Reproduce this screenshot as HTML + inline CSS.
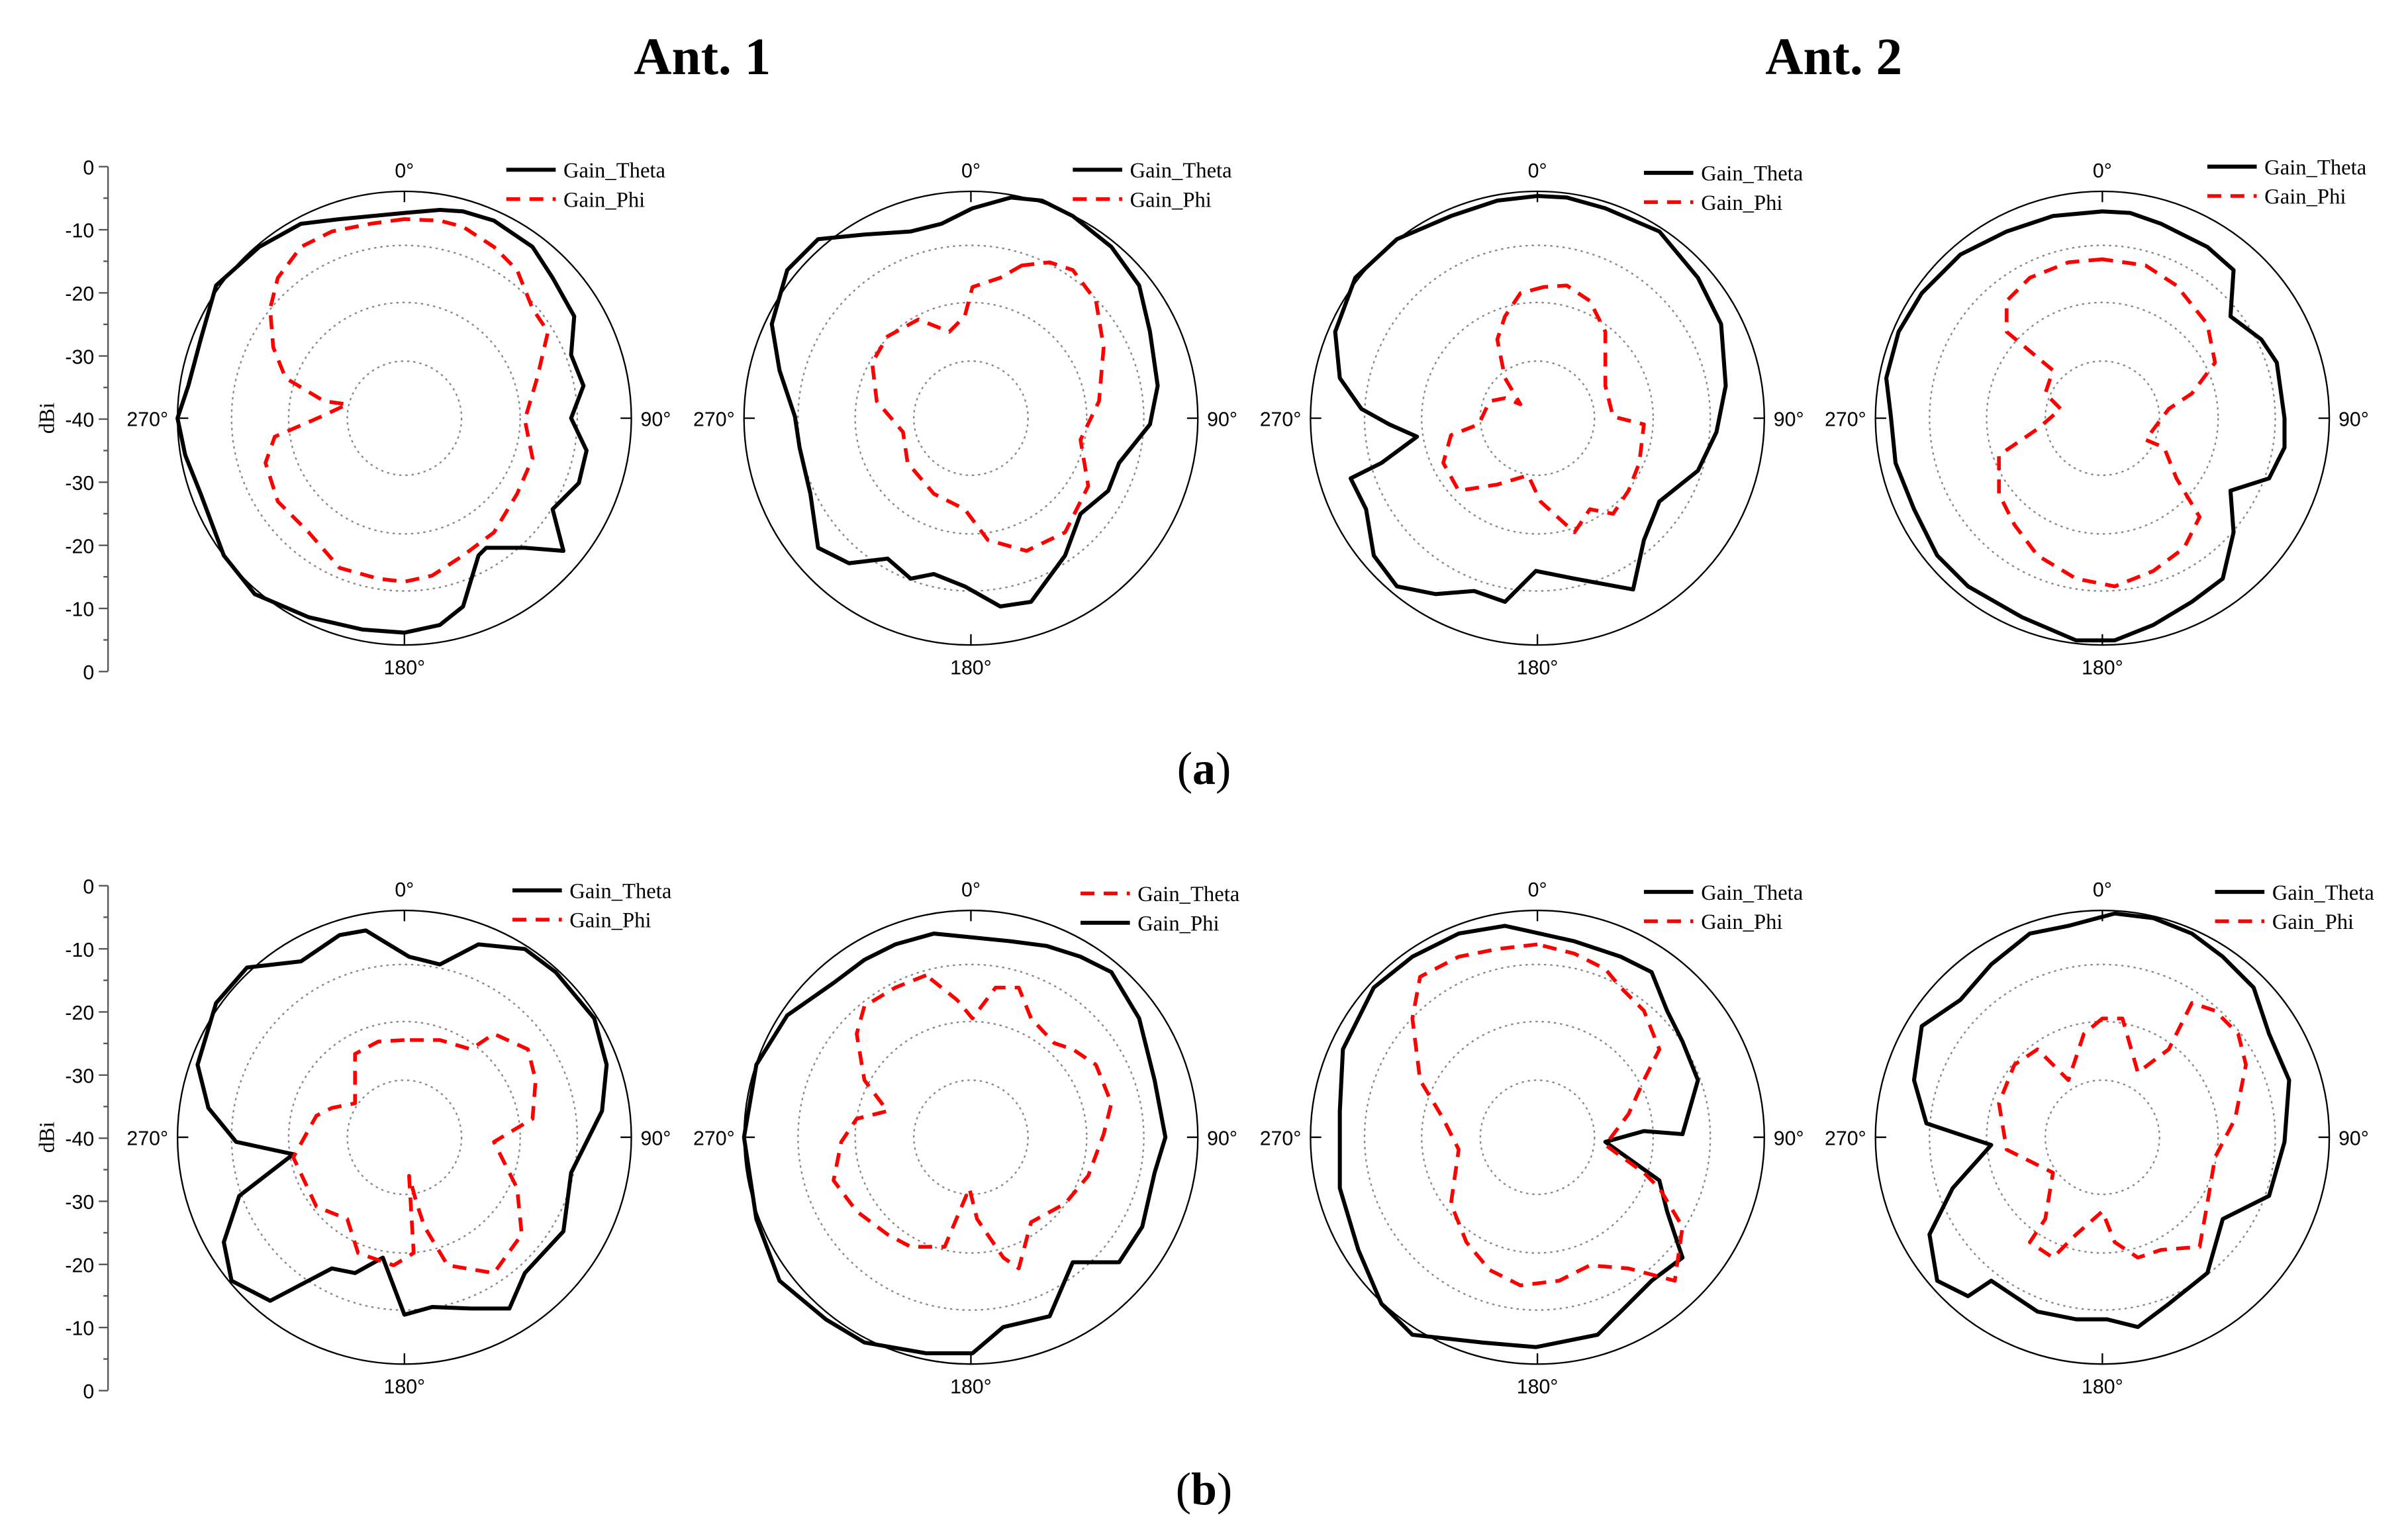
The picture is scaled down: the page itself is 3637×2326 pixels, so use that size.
<!DOCTYPE html>
<html><head><meta charset="utf-8"><style>
html,body{margin:0;padding:0;background:#fff;}
svg{display:block;}
text{font-family:"Liberation Sans",sans-serif;}
.t{font-family:"Liberation Serif",serif;}
</style></head><body>
<svg id="s" width="3637" height="2326" viewBox="0 0 1560 998" preserveAspectRatio="none" xmlns="http://www.w3.org/2000/svg">
<text class="t" x="455" y="48" font-size="34" font-weight="bold" text-anchor="middle">Ant. 1</text>
<text class="t" x="1188" y="48" font-size="34" font-weight="bold" text-anchor="middle">Ant. 2</text>
<text class="t" x="780" y="508" font-size="30" text-anchor="middle">(<tspan font-weight="bold">a</tspan>)</text>
<text class="t" x="780" y="975" font-size="30" text-anchor="middle">(<tspan font-weight="bold">b</tspan>)</text>
</svg>
<script>
var s=document.getElementById('s'),NS='http://www.w3.org/2000/svg';
function el(t,a,txt){var e=document.createElementNS(NS,t);for(var k in a)e.setAttribute(k,a[k]);if(txt!=null)e.textContent=txt;s.appendChild(e);return e;}
function pl(p,st){el('polygon',Object.assign({points:p.map(function(q){return q.join(',')}).join(' '),fill:'none','stroke-linejoin':'round'},st));}
var B={stroke:'#000','stroke-width':2.6},R={stroke:'#f00','stroke-width':2.4,'stroke-dasharray':'9,6'};
function axis(y0){el('line',{x1:70,y1:y0,x2:70,y2:y0+327,stroke:'#555','stroke-width':1});
var lab=['0','-10','-20','-30','-40','-30','-20','-10','0'];
for(var i=0;i<9;i++){var y=y0+i*40.9;el('line',{x1:64,y1:y,x2:70,y2:y,stroke:'#555','stroke-width':1});el('text',{x:61,y:y+5,'font-size':13,'text-anchor':'end'},lab[i]);
if(i<8)el('line',{x1:67,y1:y+20.4,x2:70,y2:y+20.4,stroke:'#555','stroke-width':1});}
var t=el('text',{class:'t',x:0,y:0,'font-size':14,'text-anchor':'middle',transform:'translate(35,'+(y0+163)+') rotate(-90)'},'dBi');}
axis(108);axis(574);
function plot(cx,cy,lx,ly,swap){
el('circle',{cx:cx,cy:cy,r:147,fill:'none',stroke:'#000','stroke-width':1});
[37,75,112].forEach(function(r){el('circle',{cx:cx,cy:cy,r:r,fill:'none',stroke:'#888','stroke-width':1,'stroke-dasharray':'1.5,2.5'});});
el('line',{x1:cx,y1:cy-147,x2:cx,y2:cy-140,stroke:'#000'});el('line',{x1:cx,y1:cy+147,x2:cx,y2:cy+140,stroke:'#000'});
el('line',{x1:cx-147,y1:cy,x2:cx-140,y2:cy,stroke:'#000'});el('line',{x1:cx+147,y1:cy,x2:cx+140,y2:cy,stroke:'#000'});
el('text',{x:cx,y:cy-156,'font-size':13,'text-anchor':'middle'},'0°');
el('text',{x:cx,y:cy+166,'font-size':13,'text-anchor':'middle'},'180°');
el('text',{x:cx-153,y:cy+5,'font-size':13,'text-anchor':'end'},'270°');
el('text',{x:cx+153,y:cy+5,'font-size':13,'text-anchor':'start'},'90°');
var a=swap?R:B,b=swap?B:R;
el('line',Object.assign({x1:lx,y1:ly,x2:lx+32,y2:ly},a));
el('line',Object.assign({x1:lx,y1:ly+19,x2:lx+32,y2:ly+19},b));
el('text',{class:'t',x:lx+37,y:ly+5,'font-size':14},'Gain_Theta');
el('text',{class:'t',x:lx+37,y:ly+24,'font-size':14},'Gain_Phi');}
plot(262,271,328,110);plot(629,271,695,110);plot(996,271,1065,112);plot(1362,271,1430,108);
plot(262,737,332,577);plot(629,737,700,579,1);plot(996,737,1065,578);plot(1362,737,1435,578);
pl([[285,136],[262,138],[220,142],[195,145],[168,160],[140,185],[130,220],[122,250],[115,271],[120,295],[130,320],[145,360],[165,385],[200,400],[235,408],[262,410],[285,405],[300,393],[310,360],[315,355],[340,355],[365,357],[358,330],[375,313],[380,292],[370,271],[378,250],[370,230],[372,205],[358,180],[345,160],[320,143],[300,137]],B);
pl([[262,142],[240,145],[215,150],[195,160],[180,180],[175,200],[177,225],[185,245],[210,260],[225,262],[208,270],[178,283],[172,300],[180,325],[200,345],[220,368],[245,375],[262,377],[280,373],[300,360],[320,345],[335,320],[345,297],[340,272],[348,245],[355,215],[345,200],[335,175],[320,160],[300,147],[285,143]],R);
pl([[655,128],[630,135],[610,145],[590,150],[560,152],[530,155],[510,175],[500,210],[505,240],[515,270],[518,290],[525,320],[530,355],[550,365],[575,362],[590,375],[605,372],[625,380],[648,393],[668,390],[690,360],[700,333],[718,318],[725,300],[745,275],[750,250],[745,215],[738,185],[720,160],[695,140],[675,130]],B);
pl([[662,172],[648,180],[630,186],[625,205],[615,215],[595,207],[575,218],[565,235],[568,260],[585,280],[588,300],[605,320],[625,330],[640,350],[665,357],[690,345],[705,315],[700,285],[712,260],[715,225],[710,195],[695,175],[680,170]],R);
pl([[996,127],[970,130],[940,140],[905,155],[878,180],[865,215],[868,245],[882,265],[900,275],[918,283],[895,300],[875,310],[885,330],[890,360],[905,380],[930,385],[955,383],[975,390],[995,370],[1020,375],[1058,382],[1065,350],[1075,325],[1100,305],[1112,280],[1118,250],[1115,210],[1100,180],[1075,150],[1040,135],[1015,128]],B);
pl([[1000,186],[985,190],[975,205],[970,220],[975,245],[985,262],[975,258],[965,260],[958,275],[940,282],[935,300],[945,318],[970,314],[990,308],[998,325],[1020,345],[1030,330],[1045,333],[1055,318],[1062,300],[1065,275],[1045,270],[1040,250],[1040,215],[1030,195],[1015,185]],R);
pl([[1362,137],[1330,140],[1300,150],[1270,165],[1245,190],[1230,215],[1222,245],[1225,270],[1228,300],[1240,330],[1255,360],[1275,380],[1310,400],[1345,415],[1370,415],[1395,405],[1420,390],[1440,375],[1447,345],[1445,318],[1470,310],[1480,290],[1480,271],[1475,235],[1465,220],[1445,205],[1447,175],[1430,160],[1400,145],[1380,138]],B);
pl([[1362,168],[1340,170],[1315,180],[1300,195],[1300,215],[1330,240],[1325,255],[1335,265],[1320,278],[1295,295],[1295,320],[1305,340],[1320,360],[1345,375],[1370,380],[1395,370],[1415,355],[1425,335],[1410,310],[1402,290],[1390,285],[1405,265],[1420,255],[1435,235],[1430,210],[1410,185],[1390,172]],R);
pl([[237,603],[220,606],[195,623],[160,627],[140,650],[128,690],[135,718],[153,740],[190,748],[155,775],[145,805],[150,830],[175,843],[215,822],[230,825],[248,815],[262,852],[280,847],[305,848],[330,848],[340,825],[365,798],[370,760],[390,720],[393,690],[385,660],[360,630],[340,615],[310,612],[285,625],[265,620]],B);
pl([[262,674],[245,675],[230,683],[230,715],[215,718],[205,723],[190,750],[205,782],[225,790],[232,812],[255,820],[268,812],[265,762],[270,780],[275,795],[290,820],[320,825],[338,800],[335,770],[320,740],[345,725],[347,700],[342,680],[320,670],[305,680],[285,674]],R);
pl([[605,605],[580,612],[560,622],[540,637],[510,658],[490,690],[482,737],[490,790],[505,830],[535,855],[560,870],[600,877],[630,877],[650,860],[680,853],[695,818],[725,818],[740,795],[748,760],[755,737],[748,700],[738,660],[720,630],[700,620],[678,613],[655,610]],B);
pl([[600,632],[580,640],[560,652],[555,670],[560,700],[575,720],[555,725],[545,740],[540,765],[555,785],[575,800],[590,808],[612,808],[628,770],[633,790],[650,815],[660,822],[668,792],[690,780],[705,762],[715,735],[720,715],[710,690],[695,680],[683,676],[668,660],[660,640],[645,640],[630,660],[620,648]],R);
pl([[975,600],[945,605],[915,620],[890,640],[870,680],[868,720],[868,770],[880,810],[895,845],[915,865],[960,870],[995,873],[1035,865],[1055,845],[1070,830],[1090,815],[1080,785],[1075,765],[1040,740],[1065,733],[1090,735],[1100,700],[1090,675],[1080,655],[1070,630],[1050,620],[1020,610]],B);
pl([[996,612],[970,615],[945,620],[920,633],[915,660],[920,700],[935,725],[945,745],[940,780],[950,805],[965,823],[985,833],[1010,830],[1030,820],[1055,822],[1085,830],[1090,795],[1075,770],[1065,760],[1040,742],[1055,722],[1065,700],[1075,680],[1065,655],[1050,640],[1040,628],[1020,618]],R);
pl([[1370,592],[1340,600],[1315,605],[1290,625],[1270,648],[1245,665],[1240,700],[1248,728],[1290,742],[1265,770],[1250,800],[1255,830],[1275,840],[1290,830],[1320,850],[1345,855],[1365,855],[1385,860],[1405,845],[1430,825],[1440,790],[1470,775],[1480,740],[1483,700],[1470,670],[1460,640],[1440,620],[1420,605],[1395,595]],B);
pl([[1362,660],[1350,670],[1340,700],[1320,680],[1305,690],[1295,715],[1300,745],[1330,760],[1325,790],[1315,805],[1330,815],[1345,800],[1362,785],[1370,805],[1385,815],[1400,810],[1425,808],[1430,780],[1435,750],[1448,725],[1455,690],[1450,670],[1435,655],[1420,650],[1405,680],[1385,695],[1375,660]],R);
</script>
</body></html>
